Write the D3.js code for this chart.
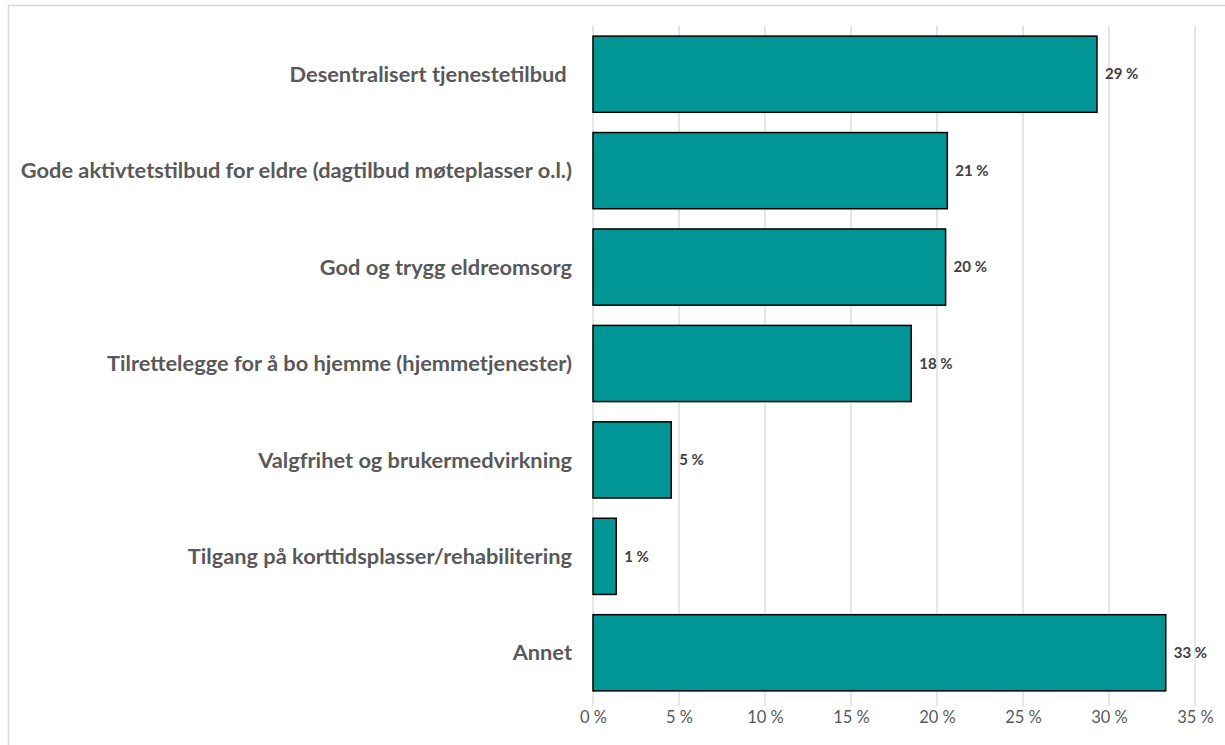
<!DOCTYPE html>
<html>
<head>
<meta charset="utf-8">
<script src="https://cdn.jsdelivr.net/npm/d3@7"></script>
<style>
  body { margin: 0; background: #fff; }
  svg { display: block; }
</style>
</head>
<body>
<svg width="1225" height="745"></svg>
<script>
// data
const categories = [
    "Desentralisert tjenestetilbud ",
    "Gode aktivtetstilbud for eldre (dagtilbud møteplasser o.l.)",
    "God og trygg eldreomsorg",
    "Tilrettelegge for å bo hjemme (hjemmetjenester)",
    "Valgfrihet og brukermedvirkning",
    "Tilgang på korttidsplasser/rehabilitering",
    "Annet"
];
const values = [29.3, 20.6, 20.5, 18.5, 4.55, 1.35, 33.3];
const valueLabels = ["29 %", "21 %", "20 %", "18 %", "5 %", "1 %", "33 %"];
const tickValues = [0, 5, 10, 15, 20, 25, 30, 35];

const svg = d3.select("svg");
const margin = { top: 26, right: 30, bottom: 44, left: 593 };
const width = 1195 - margin.left;
const height = 701 - margin.top;
const font = "Lato, 'Open Sans', sans-serif";

// outer chart border
svg.append("rect")
    .attr("x", 8.5).attr("y", 5.5)
    .attr("width", 1240).attr("height", 760)
    .attr("fill", "none")
    .attr("stroke", "#d9d9d9")
    .attr("stroke-width", 1.5);

const g = svg.append("g")
    .attr("transform", "translate(" + margin.left + "," + margin.top + ")");

const x = d3.scaleLinear().domain([0, 35]).range([0, width]);
const y = d3.scaleBand().domain(categories).range([0, height]).paddingInner(0.21).paddingOuter(0.105);

// gridlines
g.selectAll(".grid")
    .data(tickValues)
    .enter().append("line")
    .attr("class", "grid")
    .attr("x1", d => x(d)).attr("x2", d => x(d))
    .attr("y1", 0).attr("y2", height + 5)
    .attr("stroke", "#d9d9d9")
    .attr("stroke-width", 1.3);

// x axis labels
const xAxis = g.append("g")
    .attr("transform", "translate(0," + height + ")")
    .call(d3.axisBottom(x).tickValues(tickValues).tickSize(0).tickPadding(10).tickFormat(d => d + " %"));
xAxis.select(".domain").remove();
xAxis.selectAll("text")
    .attr("fill", "#595959")
    .style("font-family", font)
    .style("font-size", "16.5px");

// bars
g.selectAll(".bar")
    .data(values)
    .enter().append("rect")
    .attr("class", "bar")
    .attr("x", x(0))
    .attr("y", (d, i) => y(categories[i]))
    .attr("width", d => x(d) - x(0))
    .attr("height", y.bandwidth())
    .attr("fill", "#009696")
    .attr("stroke", "#000")
    .attr("stroke-width", 1.5);

// value labels
g.selectAll(".label")
    .data(values)
    .enter().append("text")
    .attr("class", "label")
    .attr("x", d => x(d) + 8)
    .attr("y", (d, i) => y(categories[i]) + y.bandwidth() / 2)
    .attr("dy", "0.35em")
    .attr("fill", "#404040")
    .style("font-family", font)
    .style("font-weight", "bold")
    .style("font-size", "15px")
    .text((d, i) => valueLabels[i]);

// category labels
g.selectAll(".cat")
    .data(categories)
    .enter().append("text")
    .attr("class", "cat")
    .attr("x", -21)
    .attr("y", d => y(d) + y.bandwidth() / 2)
    .attr("dy", "0.35em")
    .attr("text-anchor", "end")
    .attr("fill", "#595959")
    .style("white-space", "pre")
    .style("font-family", font)
    .style("font-weight", "bold")
    .style("font-size", "21.8px")
    .text(d => d);
</script>
</body>
</html>
